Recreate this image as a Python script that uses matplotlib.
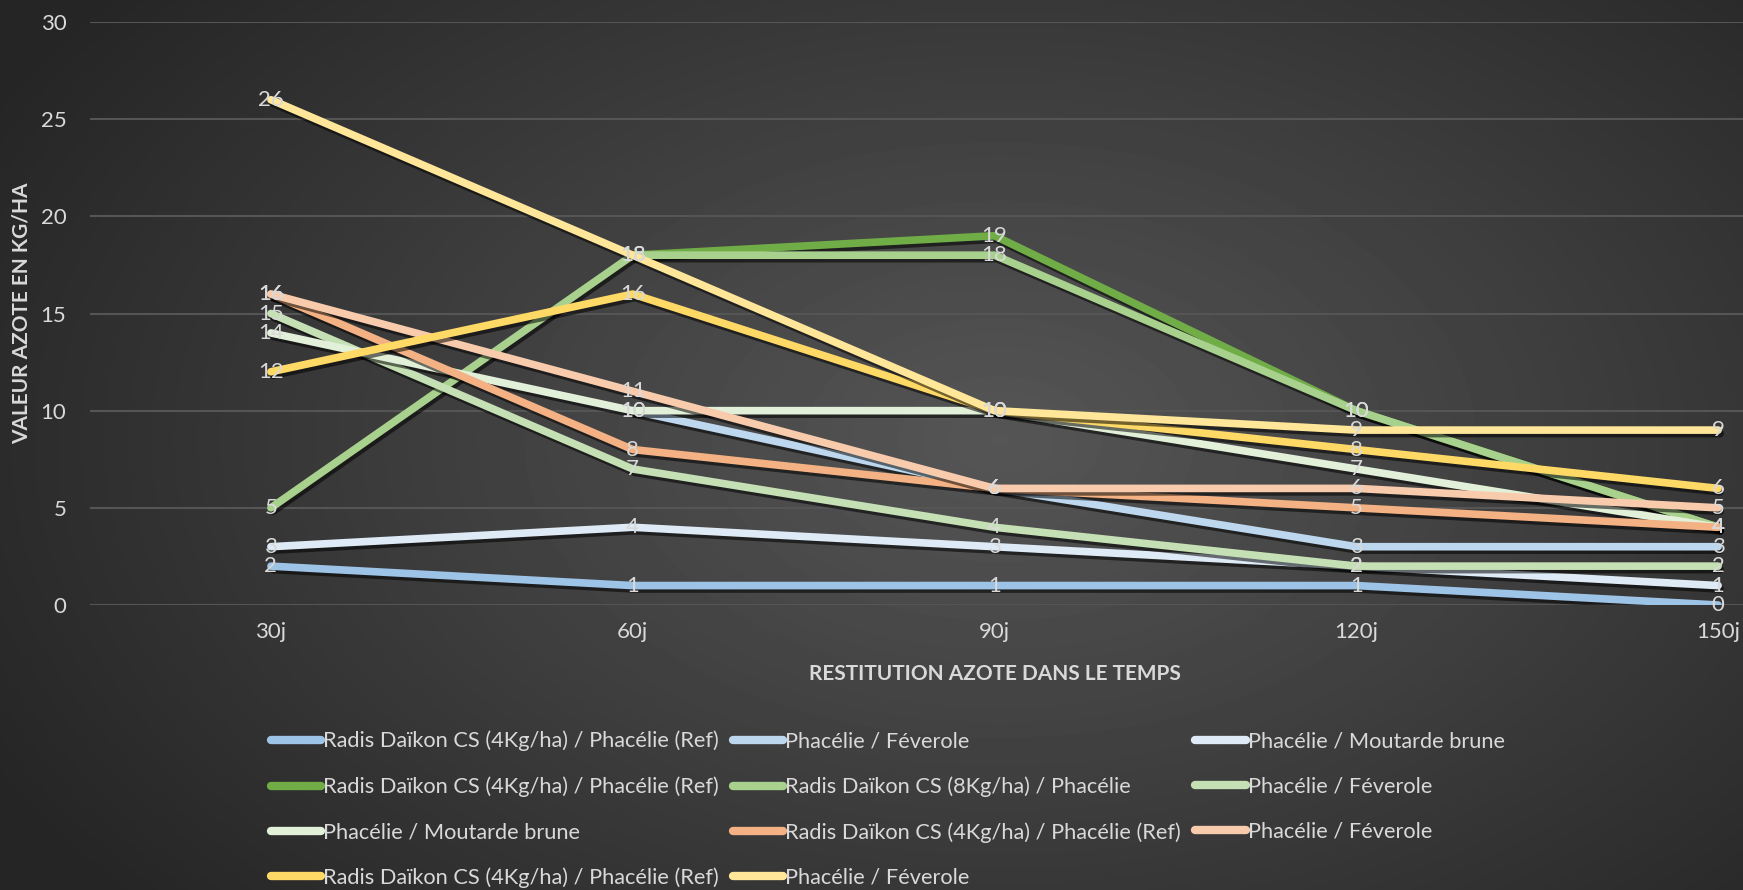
import matplotlib
matplotlib.use('Agg')
import matplotlib.pyplot as plt
import matplotlib.patheffects as pe
import numpy as np

plt.rcParams['font.family'] = ['Lato', 'DejaVu Sans']

days = ['30j', '60j', '90j', '120j', '150j']

labels = [
    'Radis Daïkon CS (4Kg/ha) / Phacélie (Ref)',
    'Phacélie / Féverole',
    'Phacélie / Moutarde brune',
    'Radis Daïkon CS (4Kg/ha) / Phacélie (Ref)',
    'Radis Daïkon CS (8Kg/ha) / Phacélie',
    'Phacélie / Féverole',
    'Phacélie / Moutarde brune',
    'Radis Daïkon CS (4Kg/ha) / Phacélie (Ref)',
    'Phacélie / Féverole',
    'Radis Daïkon CS (4Kg/ha) / Phacélie (Ref)',
    'Phacélie / Féverole',
]

nan = np.nan
s1 = [2, 1, 1, 1, 0]
s2 = [nan, 10, 6, 3, 3]
s3 = [3, 4, 3, 2, 1]
s4 = [nan, 18, 19, 10, 4]
s5 = [5, 18, 18, 10, 4]
s6 = [15, 7, 4, 2, 2]
s7 = [14, 10, 10, 7, 4]
s8 = [16, 8, 6, 5, 4]
s9 = [16, 11, 6, 6, 5]
s10 = [12, 16, 10, 8, 6]
s11 = [26, 18, 10, 9, 9]
series = [s1, s2, s3, s4, s5, s6, s7, s8, s9, s10, s11]

colors = ['#9DC3E6', '#BDD7EE', '#DEEBF7', '#70AD47', '#A9D18E', '#C5E0B4',
          '#E2F0D9', '#F4B183', '#F8CBAD', '#FFD966', '#FFE699']

txt = '#D9D9D9'
W, H = 1743, 890

fig = plt.figure(figsize=(W / 100, H / 100), dpi=100)

# background gradient
bg = fig.add_axes([0, 0, 1, 1], zorder=-10)
yy, xx = np.mgrid[0:H, 0:W]
d = np.sqrt(((xx - 1000) / 1150.0) ** 2 + ((yy - 440) / 720.0) ** 2)
shade = np.clip(0x56 - (0x56 - 0x25) * d, 0x25, 0x56) / 255.0
bg.imshow(shade, cmap='gray', vmin=0, vmax=1, aspect='auto', interpolation='bilinear')
bg.axis('off')

# plot area runs past the right edge, like the cropped original
ax = fig.add_axes([90 / W, 1 - 605 / H, (1899 - 90) / W, (605 - 22) / H])
ax.patch.set_alpha(0)

x = np.arange(len(days))
shadow = [pe.SimpleLineShadow(offset=(1.5, -2.5), shadow_color='k', alpha=0.55), pe.Normal()]
handles = []
for vals, col, lab in zip(series, colors, labels):
    h, = ax.plot(x, vals, color=col, lw=5.5, solid_capstyle='round', solid_joinstyle='round',
                 label=lab, path_effects=shadow, zorder=3)
    handles.append(h)
    for xi, v in zip(x, vals):
        if not np.isnan(v):
            ax.text(xi, v, f'{int(v)}', color=txt, fontsize=16, ha='center', va='center', zorder=5)

ax.set_xlim(-0.5, 4.5)
ax.set_ylim(0, 30)
ax.set_yticks(range(0, 31, 5))
ax.set_xticks(x)
ax.set_xticklabels(days)
ax.tick_params(axis='both', colors=txt, labelsize=16, length=0)
ax.tick_params(axis='y', pad=17)
ax.tick_params(axis='x', pad=12)
ax.grid(axis='y', color='#555555', lw=1.5)
ax.set_axisbelow(True)
for sp in ax.spines.values():
    sp.set_visible(False)

ax.set_xlabel('RESTITUTION AZOTE DANS LE TEMPS', color=txt, fontsize=15, fontweight='bold', labelpad=16)
ax.set_ylabel('VALEUR AZOTE EN KG/HA', color=txt, fontsize=15, fontweight='bold')
ax.yaxis.set_label_coords((32 - 90) / (1899 - 90), 0.5)

# Excel fills the legend row by row, matplotlib column by column
order = [0, 3, 6, 9, 1, 4, 7, 10, 2, 5, 8]
leg = fig.legend([handles[i] for i in order], [labels[i] for i in order],
                 ncol=3, loc='upper left', bbox_to_anchor=(260 / W, 1 - 720 / H),
                 frameon=False, fontsize=15.7, labelcolor=txt, handlelength=2.3,
                 handletextpad=0.1, columnspacing=0.65, labelspacing=1.15, borderpad=0)
for lh in leg.get_lines():
    lh.set_path_effects([])
    lh.set_linewidth(6)
    lh.set_solid_capstyle('round')

fig.savefig('out.png', dpi=100)
